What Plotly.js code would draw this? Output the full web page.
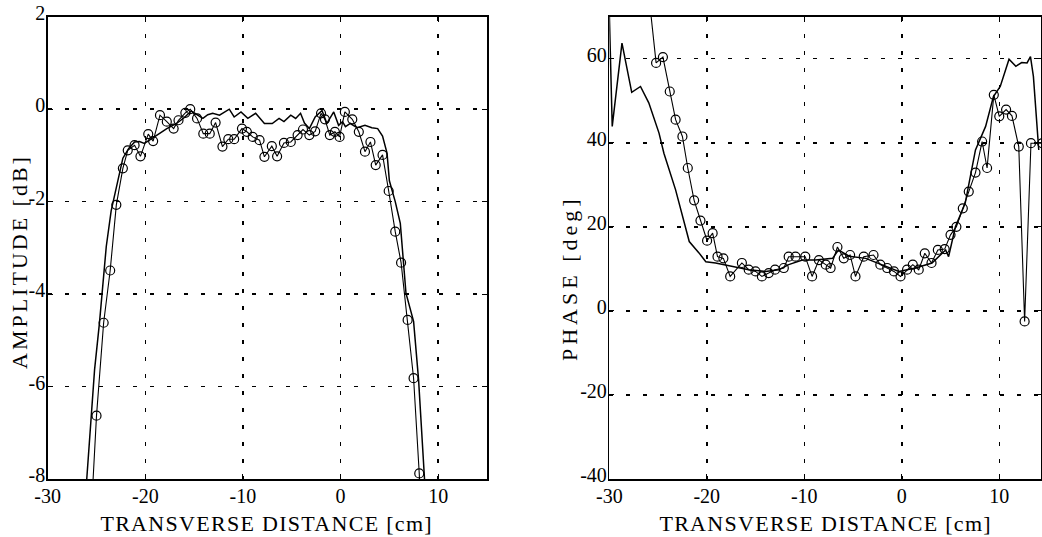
<!DOCTYPE html>
<html>
<head>
<meta charset="utf-8">
<script src="https://cdn.plot.ly/plotly-3.0.1.min.js"></script>
<style>html,body{margin:0;padding:0;background:#fff;}#chart{width:1042px;height:537px;}</style>
</head>
<body>
<div id="chart"></div>
<script>
// ---- Amplitude (left panel) ----
const ampModelX = [-26.0,-25.5,-25.2,-24.7,-24.0,-23.5,-23.1,-22.7,-22.3,-21.7,-21.1,-20.6,-20.1,-19.5,-18.9,-18.5,-17.8,-16.8,-16.0,-15.3,-14.7,-14.1,-13.6,-13.1,-12.4,-11.9,-11.4,-10.9,-10.2,-9.5,-8.7,-7.8,-7.0,-6.3,-5.8,-5.1,-4.6,-4.1,-3.7,-3.2,-2.6,-1.9,-1.4,-0.7,-0.2,0.2,0.5,1.0,1.7,2.5,3.2,3.8,4.3,4.76,5.0,5.6,6.12,6.7,7.48,7.99,8.6];
const ampModel  = [-8.0,-6.5,-5.64,-4.63,-2.97,-2.2,-1.8,-1.4,-1.06,-0.85,-0.71,-0.70,-0.74,-0.66,-0.58,-0.52,-0.42,-0.31,-0.18,-0.04,-0.12,-0.20,-0.12,-0.09,-0.13,-0.06,0.0,-0.17,-0.06,-0.20,-0.09,-0.31,-0.31,-0.20,-0.27,-0.13,-0.20,-0.09,-0.30,-0.42,-0.17,-0.03,-0.31,-0.06,-0.35,-0.27,-0.38,-0.31,-0.40,-0.35,-0.40,-0.42,-0.58,-0.95,-1.55,-2.0,-2.47,-3.98,-4.59,-5.85,-8.0];
const ampMeasX = [-25.45,-25.0,-24.27,-23.6,-22.97,-22.3,-21.8,-21.1,-20.5,-19.7,-19.2,-18.5,-17.8,-17.1,-16.6,-15.9,-15.4,-14.7,-14.06,-13.4,-12.8,-12.1,-11.5,-10.9,-10.1,-9.6,-9.0,-8.3,-7.8,-7.04,-6.5,-5.8,-5.1,-4.4,-3.85,-3.2,-2.6,-2.0,-1.6,-1.1,-0.58,-0.1,0.44,1.2,1.87,2.5,3.06,3.6,4.3,4.93,5.6,6.2,6.87,7.48,8.06,8.15];
const ampMeas  = [-8.4,-6.63,-4.62,-3.49,-2.07,-1.28,-0.89,-0.78,-1.02,-0.54,-0.69,-0.13,-0.27,-0.42,-0.24,-0.08,0.0,-0.2,-0.53,-0.53,-0.29,-0.81,-0.65,-0.65,-0.42,-0.49,-0.6,-0.67,-1.03,-0.8,-1.02,-0.73,-0.71,-0.56,-0.44,-0.56,-0.48,-0.09,-0.22,-0.56,-0.49,-0.6,-0.06,-0.22,-0.49,-0.92,-0.71,-1.21,-0.99,-1.77,-2.65,-3.32,-4.56,-5.82,-7.88,-8.3];

// ---- Phase (right panel) ----
const phaseModelX = [-30.0,-29.7,-28.7,-28.2,-27.7,-26.8,-25.95,-24.9,-24.4,-23.2,-21.8,-20.8,-20.1,-19.1,-17.4,-15.7,-14.0,-12.6,-11.6,-10.2,-8.85,-7.1,-6.5,-5.4,-3.7,-2.0,-0.3,1.4,3.1,4.5,4.8,5.5,6.5,7.56,8.6,9.4,10.1,11.0,11.7,12.3,12.85,13.2,13.5,14.05];
const phaseModel  = [71.0,43.9,63.7,57.4,52.0,53.4,49.5,42.3,37.5,28.8,16.5,13.8,11.7,11.4,10.6,9.8,9.4,9.8,11.0,12.1,12.1,12.5,14.5,13.0,12.5,11.0,9.4,10.2,11.4,14.5,12.9,20.0,25.6,38.3,43.9,51.0,53.4,59.9,58.2,59.1,59.0,60.5,55.8,38.3];
const phaseMeasX = [-25.8,-25.2,-24.5,-23.8,-23.2,-22.5,-21.95,-21.3,-20.65,-19.97,-19.4,-18.9,-18.3,-17.6,-16.4,-15.7,-15.0,-14.35,-13.65,-13.0,-12.1,-11.6,-10.9,-9.9,-9.2,-8.5,-7.8,-7.3,-6.6,-5.95,-5.3,-4.75,-3.9,-2.9,-2.2,-1.5,-0.8,-0.13,0.54,1.13,1.74,2.36,3.05,3.7,4.4,5.0,5.6,6.26,6.87,7.56,8.24,8.75,9.44,10.0,10.7,11.3,12.0,12.6,13.25,14.4];
const phaseMeas  = [72.0,59.0,60.4,52.2,45.5,41.5,34.0,26.3,21.5,16.7,18.5,12.9,12.5,8.2,11.4,9.8,9.4,8.2,9.0,9.8,10.2,12.9,12.9,12.9,8.2,12.1,11.0,10.2,15.2,12.5,13.3,8.2,12.9,13.3,11.0,10.2,9.4,8.2,9.8,11.0,9.8,13.7,11.4,14.5,14.7,18.1,20.0,24.4,28.4,32.9,40.3,34.0,51.4,46.3,47.9,46.4,39.1,-2.5,39.9,39.9];

// ---- Tick labels ----
const xTicks = [-30,-20,-10,0,10];
const ampTicks = [-8,-6,-4,-2,0,2];
const phaseTicks = [-40,-20,0,20,40,60];

const W = 1042, H = 537;
const px = v => v / W, py = v => 1 - v / H;
const FONT = 'Liberation Serif, Times New Roman, serif';

const lineStyle = {color:'#000', width:1.5};
const markerStyle = {symbol:'circle-open', size:9, color:'#000', line:{color:'#000', width:1.2}};

const traces = [
  {x:ampModelX, y:ampModel, mode:'lines', line:lineStyle, xaxis:'x', yaxis:'y'},
  {x:ampMeasX, y:ampMeas, mode:'lines+markers', line:{color:'#000', width:1.1}, marker:markerStyle, xaxis:'x', yaxis:'y'},
  {x:phaseModelX, y:phaseModel, mode:'lines', line:lineStyle, xaxis:'x2', yaxis:'y2'},
  {x:phaseMeasX, y:phaseMeas, mode:'lines+markers', line:{color:'#000', width:1.1}, marker:markerStyle, xaxis:'x2', yaxis:'y2'}
];

const axisCommon = {
  showline:true, mirror:'ticks', linecolor:'#000', linewidth:1.5,
  ticks:'inside', ticklen:5, tickcolor:'#000', tickwidth:1,
  showgrid:true, gridcolor:'#000', gridwidth:1.5, griddash:'4px,13px',
  zeroline:false, tickfont:{family:FONT, size:20, color:'#000'},
  fixedrange:true
};

const layout = {
  width:W, height:H, margin:{l:0,r:0,t:0,b:0},
  paper_bgcolor:'#fff', plot_bgcolor:'#fff', showlegend:false,
  xaxis: Object.assign({}, axisCommon, {domain:[px(47.7), px(487)], range:[-30,15], tickvals:xTicks, ticktext:xTicks.map(String), anchor:'y', ticklabelstandoff:-2}),
  yaxis: Object.assign({}, axisCommon, {domain:[py(479), py(16.7)], range:[-8,2], tickvals:ampTicks, ticktext:ampTicks.map(String), anchor:'x', ticklabelstandoff:-3, ticklabelshift:-4}),
  xaxis2: Object.assign({}, axisCommon, {domain:[px(609.3), px(1041)], range:[-30,14.28], tickvals:xTicks, ticktext:xTicks.map(String), anchor:'y2', ticklabelstandoff:-2}),
  yaxis2: Object.assign({}, axisCommon, {domain:[py(479), py(16.7)], range:[-40,70], tickvals:phaseTicks, ticktext:phaseTicks.map(String), anchor:'x2', ticklabelstandoff:-3, ticklabelshift:-4}),
  annotations: [
    {text:'TRANSVERSE DISTANCE [cm]', xref:'paper', yref:'paper', x:px(266), y:py(523), xanchor:'center', yanchor:'middle', showarrow:false, font:{family:FONT, size:22, color:'#000'}},
    {text:'TRANSVERSE DISTANCE [cm]', xref:'paper', yref:'paper', x:px(825), y:py(523), xanchor:'center', yanchor:'middle', showarrow:false, font:{family:FONT, size:22, color:'#000'}},
    {text:'AMPLITUDE [dB]', xref:'paper', yref:'paper', x:px(19), y:py(262), xanchor:'center', yanchor:'middle', textangle:-90, showarrow:false, font:{family:FONT, size:22, color:'#000'}},
    {text:'PHASE [deg]', xref:'paper', yref:'paper', x:px(569), y:py(278), xanchor:'center', yanchor:'middle', textangle:-90, showarrow:false, font:{family:FONT, size:22, color:'#000'}}
  ]
};

const spacing = {'TRANSVERSE DISTANCE [cm]':'1.3px', 'AMPLITUDE [dB]':'3px', 'PHASE [deg]':'4px'};
Plotly.newPlot('chart', traces, layout, {staticPlot:true, displayModeBar:false}).then(gd => {
  gd.querySelectorAll('text.annotation-text').forEach(t => {
    const s = spacing[t.textContent];
    if (s) t.style.letterSpacing = s;
  });
});
</script>
</body>
</html>
